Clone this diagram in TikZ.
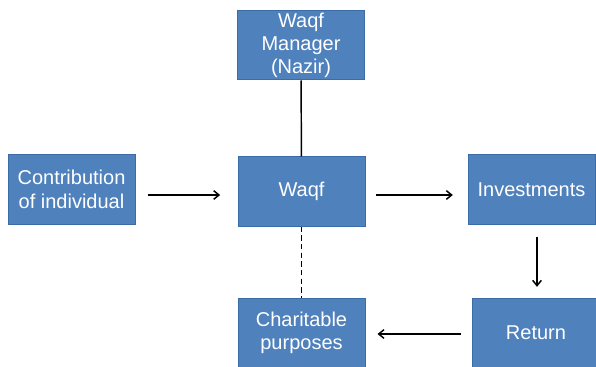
\documentclass[tikz,border=0pt]{standalone}
\usepackage{fontspec}
\setmainfont{Liberation Sans}
\usetikzlibrary{arrows.meta}
\definecolor{boxfill}{HTML}{4F81BD}
\definecolor{boxline}{HTML}{3C6CA8}
\tikzset{
  box/.style={draw=boxline, line width=0.75pt, fill=boxfill, text=white,
    minimum width=95.25pt, minimum height=51.75pt, inner sep=1pt, align=center,
    font=\fontsize{15}{17.5}\selectfont},
  conn/.style={line width=1.1pt, black},
  arr/.style={conn, -{Straight Barb[length=4pt,width=6.5pt]}}
}
\begin{document}
\begin{tikzpicture}[x=0.75pt,y=-0.75pt]
\useasboundingbox (0,0) rectangle (596,367);
\node[box] (mgr) at (301,45.5) {Waqf\\Manager\\(Nazir)};
\node[box] (contrib) at (71.5,189.5) {Contribution\\of individual};
\node[box] (waqf) at (301.5,191.5) {Waqf};
\node[box] (inv) at (531.5,189.5) {Investments};
\node[box] (char) at (301.5,333) {Charitable\\purposes};
\node[box] (ret) at (536,332.5) {Return};
\coordinate (dtop) at (537,0);
\draw[conn] (mgr) -- (waqf);
\draw[conn, dashed, dash pattern=on 4pt off 2.5pt] (waqf) -- (char);
\draw[arr, shorten <=9pt, shorten >=13pt] (contrib.east |- 0,195) -- (waqf.west |- 0,195);
\draw[arr, shorten <=8pt, shorten >=11pt] (waqf.east |- 0,195) -- (inv.west |- 0,195);
\draw[arr, shorten <=9pt, shorten >=8pt] (inv.south -| dtop) -- (ret.north -| dtop);
\draw[arr, shorten <=8pt, shorten >=9pt] (ret.west |- 0,334) -- (char.east |- 0,334);
\end{tikzpicture}
\end{document}
